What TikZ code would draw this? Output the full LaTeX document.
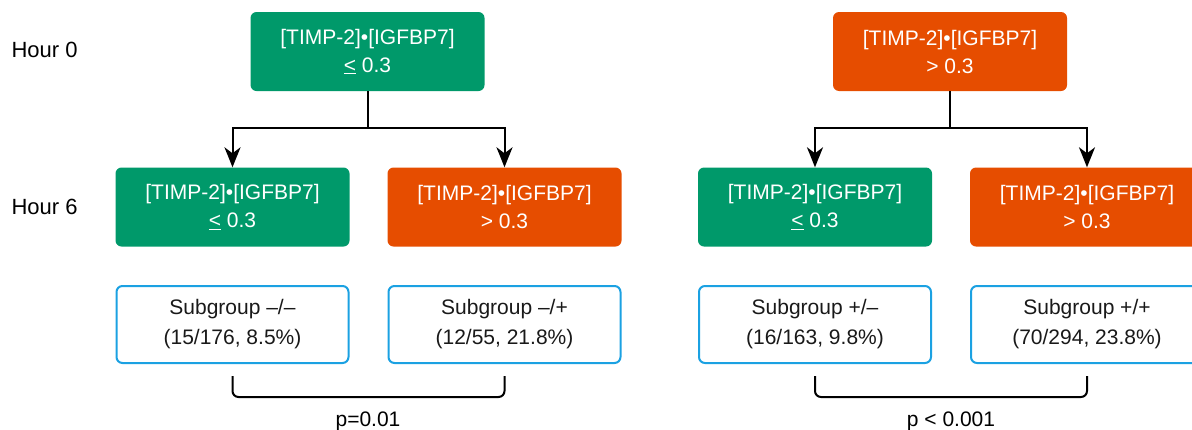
\documentclass[tikz,border=0pt]{standalone}
\usepackage{fontspec}
\setmainfont{Liberation Sans}
\usepackage{xcolor}
\usepackage{tikz}
\usetikzlibrary{positioning, arrows.meta, calc}

\definecolor{lowgreen}{HTML}{00996A}
\definecolor{highorange}{HTML}{E64D00}
\definecolor{sgblue}{HTML}{1BA1E2}

\begin{document}
\begin{tikzpicture}[x=1pt, y=-1pt]
\tikzstyle{marker}=[minimum height=79pt, minimum width=234pt, rounded corners=6pt, text=white, align=center, font=\fontsize{21}{28}\selectfont]
\tikzstyle{low}=[marker, fill=lowgreen]
\tikzstyle{high}=[marker, fill=highorange]
\tikzstyle{subgroup}=[draw=sgblue, line width=2pt, minimum height=77pt, minimum width=232pt, rounded corners=6pt, text=black!90, align=center, font=\fontsize{21}{30}\selectfont]
\tikzstyle{hourlabel}=[anchor=west, text=black, font=\fontsize{22}{26}\selectfont]
\tikzstyle{plabel}=[text=black, font=\fontsize{21}{26}\selectfont]
\tikzstyle{flow}=[-{Stealth[length=20pt, width=16pt, inset=6pt]}, line width=2pt, black]
\tikzstyle{brace}=[line width=2pt, rounded corners=6pt, black]

\useasboundingbox (0,0) rectangle (1192,429);
\clip (0,0) rectangle (1192,429);

\node (hr0) at (8,50) [hourlabel] {Hour 0};
\node (hr6) at (8,207) [hourlabel] {Hour 6};

\node (h0a) at (367.5,51.5) [low] {[TIMP-2]•[IGFBP7]\\\underline{<} 0.3};
\node (h0b) at (950,51.5) [high] {[TIMP-2]•[IGFBP7]\\> 0.3};

\node (h6a) at (232.5,207) [low] {[TIMP-2]•[IGFBP7]\\\underline{<} 0.3};
\node (h6b) at (504.5,207) [high] {[TIMP-2]•[IGFBP7]\\> 0.3};
\node (h6c) at (815,207) [low] {[TIMP-2]•[IGFBP7]\\\underline{<} 0.3};
\node (h6d) at (1087,207) [high] {[TIMP-2]•[IGFBP7]\\> 0.3};

\draw [flow] (h0a.south) -- ++(0,37) -| (h6a.north);
\draw [flow] (h0a.south) -- ++(0,37) -| (h6b.north);
\draw [flow] (h0b.south) -- ++(0,37) -| (h6c.north);
\draw [flow] (h0b.south) -- ++(0,37) -| (h6d.north);

\node (sg0) at (232.5,324.5) [subgroup] {Subgroup –/–\\(15/176, 8.5\%)};
\node (sg1) at (504.5,324.5) [subgroup] {Subgroup –/+\\(12/55, 21.8\%)};
\node (sg2) at (815,324.5) [subgroup] {Subgroup +/–\\(16/163, 9.8\%)};
\node (sg3) at (1087,324.5) [subgroup] {Subgroup +/+\\(70/294, 23.8\%)};

\draw [brace] ([yshift=-12pt]sg0.south) -- ++(0,21) -| ([yshift=-12pt]sg1.south);
\draw [brace] ([yshift=-12pt]sg2.south) -- ++(0,21) -| ([yshift=-12pt]sg3.south);

\node (pa) at (368,421) [plabel] {p=0.01};
\node (pb) at (951,421) [plabel] {p < 0.001};
\end{tikzpicture}
\end{document}
